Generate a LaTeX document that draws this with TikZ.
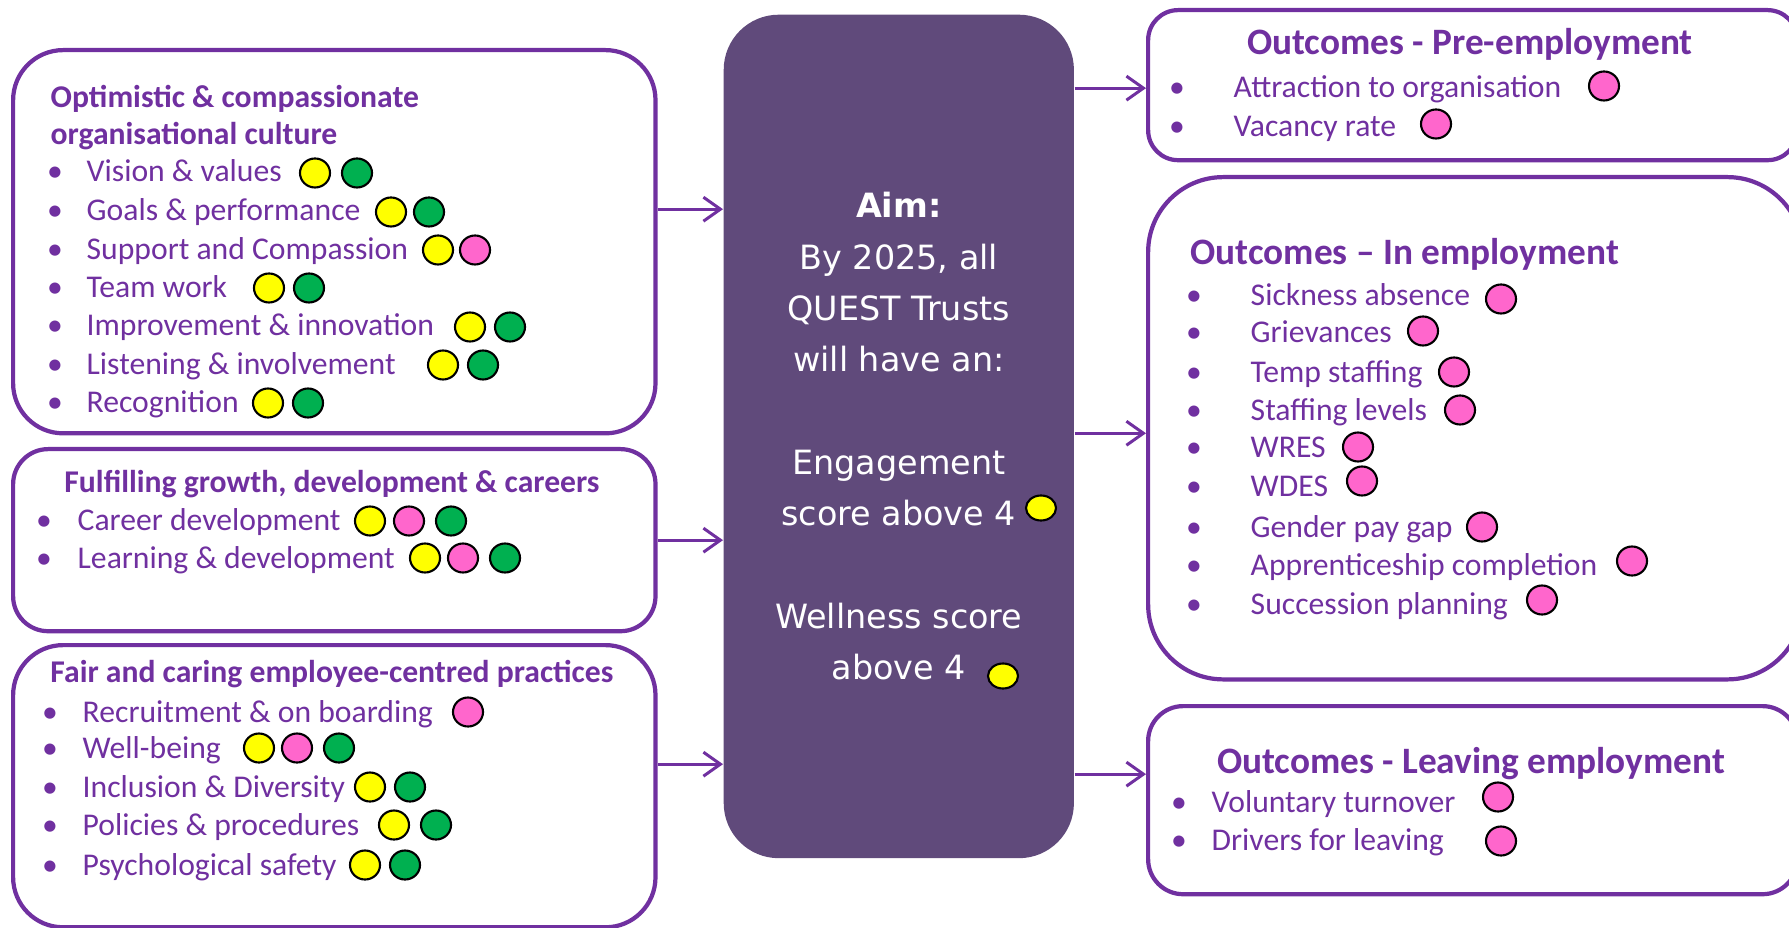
\documentclass[tikz,border=0pt]{standalone}
\usepackage{fontspec}
\setmainfont{Carlito}
\newfontfamily\aimfont{DejaVu Sans}
\usepackage{tikz}
\usetikzlibrary{shapes.geometric, arrows.meta, positioning, calc}
\definecolor{qpurple}{RGB}{112,48,160}
\definecolor{aimfill}{RGB}{96,74,123}
\definecolor{dotyel}{RGB}{255,255,0}
\definecolor{dotpink}{RGB}{255,102,204}
\definecolor{dotgreen}{RGB}{0,176,80}
\tikzset{
  panel/.style={rectangle, draw=qpurple, fill=white, line width=1.2pt,
    anchor=north west, inner sep=0pt},
  aimbox/.style={rectangle, fill=aimfill, rounded corners=5.5mm,
    anchor=north west, align=center, text=white,
    font=\aimfont\fontsize{9.5}{14.6}\selectfont},
  head/.style={anchor=base west, inner sep=0pt, text=qpurple, align=left,
    font=\fontsize{9}{10.8}\selectfont\bfseries},
  outhead/.style={anchor=base, inner sep=0pt, text=qpurple,
    font=\fontsize{10.6}{13}\selectfont\bfseries},
  item/.style={anchor=base west, inner sep=0pt, text=qpurple,
    font=\fontsize{9}{11}\selectfont},
  bullet/.style={anchor=base, inner sep=0pt, text=qpurple,
    font=\fontsize{9}{11}\selectfont},
  dot/.style={ellipse, draw=black, line width=0.6pt, inner sep=0pt,
    minimum width=0.3cm, minimum height=0.29cm},
  arrow/.style={-{Straight Barb[length=1.7mm, width=2.4mm]}, line width=0.85pt, draw=qpurple}
}

\begin{document}
\begin{tikzpicture}[x=0.01cm, y=-0.01cm]
  \useasboundingbox (0,0) rectangle (1789,928);
  \clip (0,0) rectangle (1789,928);

  % left panels
  \node[panel, rounded corners=5mm, minimum width=6.42cm, minimum height=3.83cm] (cult) at (11,48) {};
  \node[panel, rounded corners=3.5mm, minimum width=6.42cm, minimum height=1.82cm] (grow) at (11,447) {};
  \node[panel, rounded corners=5mm, minimum width=6.42cm, minimum height=2.82cm] (fair) at (11,643) {};

  % aim in the middle
  \node[aimbox, minimum width=3.5cm, minimum height=8.43cm] (aim) at (723,14)
    {\textbf{Aim:}\\By 2025, all\\QUEST Trusts\\will have an:\\[14.6pt]Engagement\\score above 4\\[14.6pt]Wellness score\\above 4};

  % outcome panels (run off the right edge)
  \node[panel, rounded corners=3mm, minimum width=6.49cm, minimum height=1.5cm] (pre) at (1146,8) {};
  \node[panel, rounded corners=7.5mm, minimum width=6.54cm, minimum height=5.02cm] (inemp) at (1146,175) {};
  \node[panel, rounded corners=3.5mm, minimum width=6.49cm, minimum height=1.88cm] (leave) at (1146,704) {};

  % Optimistic & compassionate
  \node[head] (culthead) at (50,145) {Optimistic \& compassionate\\organisational culture};
  \foreach \y/\t [count=\i] in {182/Vision \& values, 221/Goals \& performance,
      260/Support and Compassion, 298/Team work, 336/Improvement \& innovation,
      375/Listening \& involvement, 413/Recognition} {
    \node[bullet] (cb\i) at (55,\y) {•};
    \node[item] (ct\i) at (86,\y) {\t};
  }

  % Fulfilling growth
  \node[outhead, font=\fontsize{9}{11}\selectfont\bfseries] (growhead) at (332,492) {Fulfilling growth, development \& careers};
  \foreach \y/\t [count=\i] in {531/Career development, 568/Learning \& development} {
    \node[bullet] (gb\i) at (44,\y) {•};
    \node[item] (gt\i) at (77,\y) {\t};
  }

  % Fair and caring
  \node[outhead, font=\fontsize{9}{11}\selectfont\bfseries] (fairhead) at (332,682) {Fair and caring employee-centred practices};
  \foreach \y/\t [count=\i] in {722/Recruitment \& on boarding, 758/Well-being,
      797/Inclusion \& Diversity, 835/Policies \& procedures, 875/Psychological safety} {
    \node[bullet] (fb\i) at (50,\y) {•};
    \node[item] (ft\i) at (82,\y) {\t};
  }

  % Pre-employment
  \node[outhead] (prehead) at (1470,55) {Outcomes - Pre-employment};
  \foreach \y/\t [count=\i] in {98/Attraction to organisation, 137/Vacancy rate} {
    \node[bullet] (pb\i) at (1177,\y) {•};
    \node[item] (pt\i) at (1233,\y) {\t};
  }

  % In employment
  \node[outhead, anchor=base west] (inhead) at (1190,265) {Outcomes – In employment};
  \foreach \y/\t [count=\i] in {306/Sickness absence, 343/Grievances, 383/Temp staffing,
      421/Staffing levels, 458/WRES, 497/WDES, 537/Gender pay gap,
      575/Apprenticeship completion, 614/Succession planning} {
    \node[bullet] (ib\i) at (1194,\y) {•};
    \node[item] (it\i) at (1250,\y) {\t};
  }

  % Leaving employment
  \node[outhead] (leavehead) at (1471,773) {Outcomes - Leaving employment};
  \foreach \y/\t [count=\i] in {812/Voluntary turnover, 850/Drivers for leaving} {
    \node[bullet] (lb\i) at (1179,\y) {•};
    \node[item] (lt\i) at (1211,\y) {\t};
  }

  % rating dots
  \foreach \x/\y/\c [count=\k] in {315/173/dotyel, 357/173/dotgreen, 391/212/dotyel, 429/212/dotgreen,
      438/250/dotyel, 475/250/dotpink, 269/288/dotyel, 309/288/dotgreen,
      470/327/dotyel, 510/327/dotgreen, 443/365/dotyel, 483/365/dotgreen,
      268/403/dotyel, 308/403/dotgreen,
      370/521/dotyel, 409/521/dotpink, 451/521/dotgreen,
      425/558/dotyel, 463/558/dotpink, 505/558/dotgreen,
      468/712/dotpink, 259/748/dotyel, 297/748/dotpink, 339/748/dotgreen,
      370/787/dotyel, 410/787/dotgreen, 394/825/dotyel, 436/825/dotgreen,
      365/865/dotyel, 405/865/dotgreen,
      1604/86/dotpink, 1436/124/dotpink,
      1501/299/dotpink, 1423/331/dotpink, 1454/372/dotpink, 1460/410/dotpink,
      1358/447/dotpink, 1362/481/dotpink, 1482/527/dotpink, 1632/561/dotpink,
      1542/600/dotpink, 1498/797/dotpink, 1501/841/dotpink} {
    \node[dot, fill=\c] (d\k) at (\x,\y) {};
  }
  \node[dot, fill=dotyel, minimum width=0.3cm, minimum height=0.25cm] (eng) at (1041,508) {};
  \node[dot, fill=dotyel, minimum width=0.3cm, minimum height=0.25cm] (well) at (1003,676) {};

  % arrows in and out of the aim
  \draw[arrow] ([yshift=3.25mm]cult.east) -- ([yshift=3.25mm]cult.east -| aim.west);
  \draw[arrow] (grow.east) -- (grow.east -| aim.west);
  \draw[arrow] ([yshift=2.2mm]fair.east) -- ([yshift=2.2mm]fair.east -| aim.west);
  \draw[arrow] ([yshift=-0.3mm]pre.west -| aim.east) -- ([yshift=-0.3mm]pre.west);
  \draw[arrow] ([yshift=-0.5mm]inemp.west -| aim.east) -- ([yshift=-0.5mm]inemp.west);
  \draw[arrow] ([yshift=2.6mm]leave.west -| aim.east) -- ([yshift=2.6mm]leave.west);
\end{tikzpicture}
\end{document}
